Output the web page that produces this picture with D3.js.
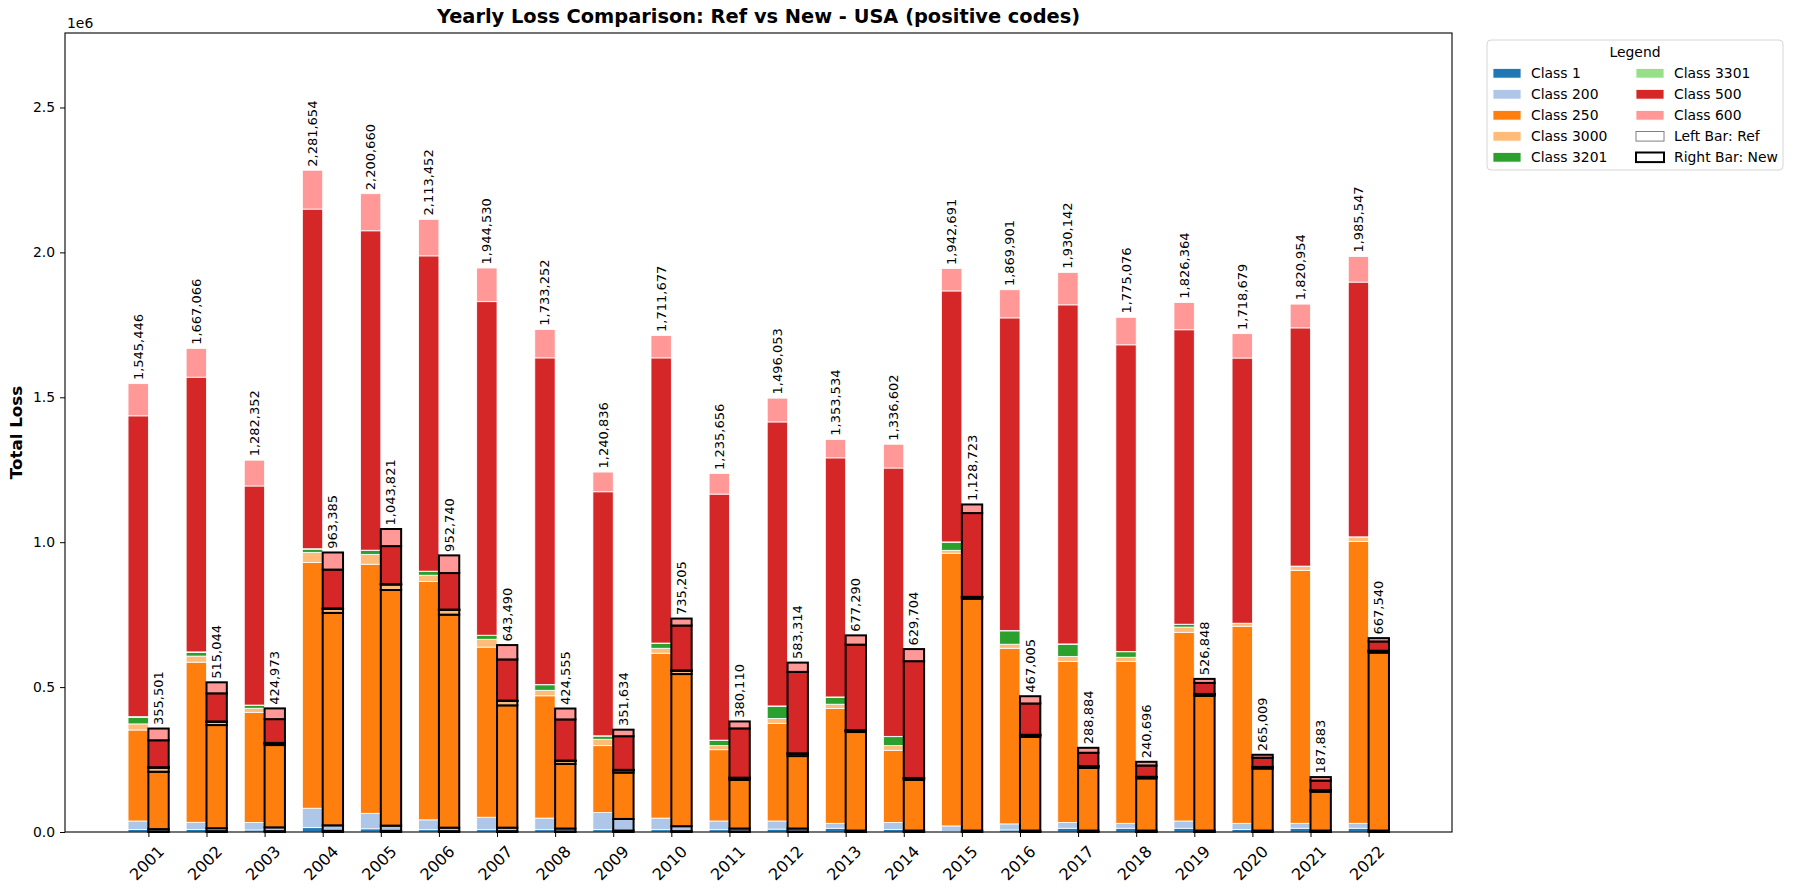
<!DOCTYPE html>
<html>
<head>
<meta charset="utf-8">
<script src="https://cdn.jsdelivr.net/npm/d3@7"></script>
<style>
  body { margin: 0; background: #fff; }
  text { font-family: "DejaVu Sans", sans-serif; }
</style>
</head>
<body>
<div class="chart"></div>
<script>
// years on the x axis
const years = ["2001", "2002", "2003", "2004", "2005", "2006", "2007", "2008", "2009", "2010", "2011",
    "2012", "2013", "2014", "2015", "2016", "2017", "2018", "2019", "2020", "2021", "2022"];

const classes = ["Class 1", "Class 200", "Class 250", "Class 3000", "Class 3201", "Class 3301", "Class 500", "Class 600"];
const colors = ["#1f77b4", "#aec7e8", "#ff7f0e", "#ffbb78", "#2ca02c", "#98df8a", "#d62728", "#ff9896"];

// total labels
const refTotals = [1545446, 1667066, 1282352, 2281654, 2200660, 2113452, 1944530, 1733252, 1240836, 1711677, 1235656,
    1496053, 1353534, 1336602, 1942691, 1869901, 1930142, 1775076, 1826364, 1718679, 1820954, 1985547];
const newTotals = [355501, 515044, 424973, 963385, 1043821, 952740, 643490, 424555, 351634, 735205, 380110,
    583314, 677290, 629704, 1128723, 467005, 288884, 240696, 526848, 265009, 187883, 667540];

// left bars (Ref), per class
const ref1 = [9000, 9000, 7000, 15000, 11000, 8000, 8000, 8000, 8000, 8000, 8000,
    10000, 13000, 9000, 2000, 7000, 13000, 13000, 13000, 9000, 13000, 13000];
const ref200 = [29000, 24500, 26000, 67000, 53500, 34000, 43000, 40000, 59000, 40000, 30000,
    28000, 17000, 24000, 19000, 21000, 20000, 17000, 25000, 21000, 17000, 17000];
const ref250 = [314000, 552500, 380000, 848000, 859500, 823000, 587000, 422000, 231000, 569000, 246000,
    337000, 396000, 249000, 941000, 606000, 556000, 559000, 651000, 680000, 873000, 973000];
const ref3000 = [21000, 21000, 14000, 35000, 34000, 21000, 27000, 19000, 22000, 17000, 14000,
    17000, 15000, 16000, 10000, 14000, 17000, 14000, 18000, 10000, 14000, 15000];
const ref3201 = [23000, 13000, 10000, 11000, 13000, 13000, 13000, 19000, 11000, 17000, 18000,
    42000, 24000, 31000, 28000, 46000, 42000, 19000, 9000, 0, 0, 0];
const ref3301 = [2000, 1500, 1000, 1500, 1500, 1000, 1000, 1000, 1000, 1000, 1000,
    1000, 1000, 1000, 1000, 1000, 1000, 1000, 1000, 500, 500, 500];
const ref500 = [1038000, 948000, 756000, 1172000, 1102000, 1088000, 1151000, 1127000, 842000, 984000, 849000,
    980000, 825000, 926000, 866000, 1079000, 1170000, 1058000, 1016000, 915000, 822000, 879000];
const ref600 = [111000, 99000, 89000, 134000, 128000, 126000, 116000, 98000, 68000, 77000, 71000,
    82000, 63000, 82000, 77000, 97000, 112000, 95000, 94000, 84000, 82000, 88000];

// right bars (New), per class
const new1 = [2000, 3000, 3000, 4000, 4000, 3000, 3000, 2000, 5000, 3000, 2000,
    2000, 1000, 1000, 1000, 1000, 1000, 1000, 1000, 1000, 1000, 1000];
const new200 = [8000, 10000, 13000, 19000, 18000, 12000, 12000, 10000, 40000, 17000, 10000,
    10000, 4000, 4000, 4000, 4000, 4000, 4000, 4000, 4000, 4000, 4000];
const new250 = [198000, 356000, 284000, 733000, 813000, 735000, 422000, 223000, 160000, 525000, 168000,
    250000, 340000, 175000, 800000, 323000, 216000, 180000, 465000, 214000, 134000, 614000];
const new3000 = [14000, 11000, 6000, 14000, 19000, 16000, 15000, 10000, 8000, 11000, 6000,
    8000, 5000, 5000, 5000, 6000, 5000, 4000, 5000, 4000, 4000, 5000];
const new3201 = [1000, 1000, 1000, 1000, 1000, 1000, 1000, 1000, 1000, 1000, 1000,
    1000, 1000, 1000, 1000, 1000, 1000, 1000, 1000, 1000, 1000, 1000];
const new3301 = [500, 500, 500, 500, 500, 500, 500, 500, 500, 500, 500,
    500, 500, 500, 500, 500, 500, 500, 500, 500, 500, 500];
const new500 = [93000, 97000, 82000, 134000, 131000, 126000, 142000, 142000, 116000, 155000, 170000,
    281000, 295000, 403000, 289000, 108000, 46000, 39000, 38000, 32000, 33000, 32000];
const new600 = [40500, 38000, 37000, 59000, 59000, 61000, 49500, 37600, 22600, 24000, 24000,
    32000, 32000, 41700, 29700, 25000, 17000, 12700, 13800, 10000, 12000, 11500];

const refSeries = [ref1, ref200, ref250, ref3000, ref3201, ref3301, ref500, ref600];
const newSeries = [new1, new200, new250, new3000, new3201, new3301, new500, new600];

// build rows for d3.stack
function toRows(series) {
    return years.map((y, i) => {
        const row = { i: i };
        classes.forEach((c, k) => { row[c] = series[k][i]; });
        return row;
    });
}

// size of the figure and plot area
const W = 1793, H = 890;
const margin = { top: 33, right: 341, bottom: 58, left: 65 };
const barW = 0.35;

const svg = d3.select("div.chart")
    .append("svg")
    .attr("width", W)
    .attr("height", H);

svg.append("rect").attr("width", W).attr("height", H).attr("fill", "#fff");

const x = d3.scaleLinear()
    .domain([-1.435, years.length - 1 + 1.435])
    .range([margin.left, W - margin.right]);

const y = d3.scaleLinear()
    .domain([0, 2757000])
    .range([H - margin.bottom, margin.top]);

const stack = d3.stack().keys(classes);
const color = d3.scaleOrdinal().domain(classes).range(colors);

// draw one set of stacked bars
function drawBars(series, offset, stroke, strokeW, cls) {
    const layers = stack(toRows(series));
    svg.append("g")
        .attr("class", cls)
        .selectAll("g")
        .data(layers)
        .enter()
        .append("g")
        .attr("fill", d => color(d.key))
        .selectAll("rect")
        .data(d => d)
        .enter()
        .append("rect")
        .attr("x", d => x(d.data.i + offset - barW / 2))
        .attr("width", x(barW) - x(0))
        .attr("y", d => y(d[1]))
        .attr("height", d => y(d[0]) - y(d[1]))
        .attr("stroke", stroke)
        .attr("stroke-width", strokeW);
}

drawBars(refSeries, -barW / 2, "#fff", 0.8, "ref");
drawBars(newSeries, barW / 2, "#000", 2, "new");

// total labels on top of each bar
const fmt = d3.format(",");
function drawLabels(totals, offset) {
    svg.append("g")
        .selectAll("text")
        .data(totals)
        .enter()
        .append("text")
        .attr("transform", (d, i) => `translate(${x(i + offset)},${y(d) - 4}) rotate(-90)`)
        .attr("dominant-baseline", "central")
        .attr("font-size", "13px")
        .attr("fill", "#000")
        .text(d => fmt(d));
}
drawLabels(refTotals, -barW / 2);
drawLabels(newTotals, barW / 2);

// axes
const yAxis = d3.axisLeft(y)
    .tickValues([0, 500000, 1000000, 1500000, 2000000, 2500000])
    .tickFormat(d => (d / 1e6).toFixed(1))
    .tickSize(5)
    .tickPadding(5);
const gy = svg.append("g")
    .attr("transform", `translate(${margin.left},0)`)
    .call(yAxis);
gy.select(".domain").remove();
gy.selectAll("text").attr("font-size", "13.9px").attr("font-family", "DejaVu Sans").attr("fill", "#000");

const xAxis = d3.axisBottom(x)
    .tickValues(d3.range(years.length))
    .tickFormat(i => years[i])
    .tickSize(5);
const gx = svg.append("g")
    .attr("transform", `translate(0,${H - margin.bottom})`)
    .call(xAxis);
gx.select(".domain").remove();
gx.selectAll("text")
    .attr("font-size", "16px")
    .attr("font-family", "DejaVu Sans")
    .attr("fill", "#000")
    .attr("text-anchor", "middle")
    .attr("dominant-baseline", "central")
    .attr("y", 0)
    .attr("dy", 0)
    .attr("transform", "translate(-2,31) rotate(-45)");

// frame of the plot
svg.append("rect")
    .attr("x", margin.left)
    .attr("y", margin.top)
    .attr("width", W - margin.right - margin.left)
    .attr("height", H - margin.bottom - margin.top)
    .attr("fill", "none")
    .attr("stroke", "#000")
    .attr("stroke-width", 1.1);

// offset text, title and axis label
svg.append("text")
    .attr("x", margin.left + 2)
    .attr("y", 28)
    .attr("font-size", "13.9px")
    .text("1e6");

svg.append("text")
    .attr("x", (margin.left + W - margin.right) / 2)
    .attr("y", 23)
    .attr("text-anchor", "middle")
    .attr("font-size", "19.4px")
    .attr("font-weight", "bold")
    .text("Yearly Loss Comparison: Ref vs New - USA (positive codes)");

svg.append("text")
    .attr("transform", `translate(22,${(margin.top + H - margin.bottom) / 2}) rotate(-90)`)
    .attr("text-anchor", "middle")
    .attr("font-size", "16.7px")
    .attr("font-weight", "bold")
    .text("Total Loss");

// legend
const legend = svg.append("g").attr("transform", "translate(1487,40)");
legend.append("rect")
    .attr("width", 296)
    .attr("height", 130)
    .attr("rx", 4)
    .attr("fill", "#fff")
    .attr("fill-opacity", 0.8)
    .attr("stroke", "#d6d6d6");
legend.append("text")
    .attr("x", 148)
    .attr("y", 12)
    .attr("text-anchor", "middle")
    .attr("dominant-baseline", "central")
    .attr("font-size", "13.9px")
    .text("Legend");

const legendItems = classes.map((c, k) => ({ name: c, fill: colors[k], stroke: "#fff", sw: 0.8 }))
    .concat([
        { name: "Left Bar: Ref", fill: "#fff", stroke: "#808080", sw: 1 },
        { name: "Right Bar: New", fill: "#fff", stroke: "#000", sw: 2 }
    ]);

const item = legend.selectAll("g.item")
    .data(legendItems)
    .enter()
    .append("g")
    .attr("class", "item")
    .attr("transform", (d, k) => `translate(${k < 5 ? 6 : 149},${33.3 + (k % 5) * 21})`);
item.append("rect")
    .attr("x", 0)
    .attr("y", -4.8)
    .attr("width", 28)
    .attr("height", 9.6)
    .attr("fill", d => d.fill)
    .attr("stroke", d => d.stroke)
    .attr("stroke-width", d => d.sw);
item.append("text")
    .attr("x", 38)
    .attr("y", 0)
    .attr("dominant-baseline", "central")
    .attr("font-size", "13.9px")
    .text(d => d.name);
</script>
</body>
</html>
